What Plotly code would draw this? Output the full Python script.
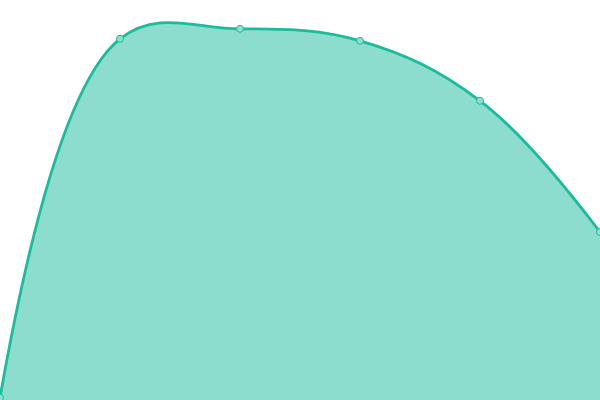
import plotly.graph_objects as go

# values
x_vals = [0, 1, 2, 3, 4, 5]
y_vals = [0.6, 90.3, 92.8, 89.8, 74.8, 42.0]

line_color = "#1abc9c"
fill_color = "rgba(26,188,156,0.5)"

fig = go.Figure()
fig.add_trace(go.Scatter(
    x=x_vals,
    y=y_vals,
    mode="lines+markers",
    fill="tozeroy",
    fillcolor=fill_color,
    line=dict(color=line_color, width=2.8, shape="spline", smoothing=1.1),
    marker=dict(size=7, color="rgba(140,224,207,1)",
                line=dict(color=line_color, width=1)),
    hoverinfo="x+y",
))

fig.update_layout(
    width=600,
    height=400,
    margin=dict(l=0, r=0, t=0, b=0),
    paper_bgcolor="white",
    plot_bgcolor="white",
    showlegend=False,
)
fig.update_xaxes(visible=False, range=[0, 5])
fig.update_yaxes(visible=False, range=[0, 100])

# drop the page's default body margin so the chart fills the window
fig.write_html("out.html", config={"displayModeBar": False},
               post_script="document.body.style.margin='0';")
